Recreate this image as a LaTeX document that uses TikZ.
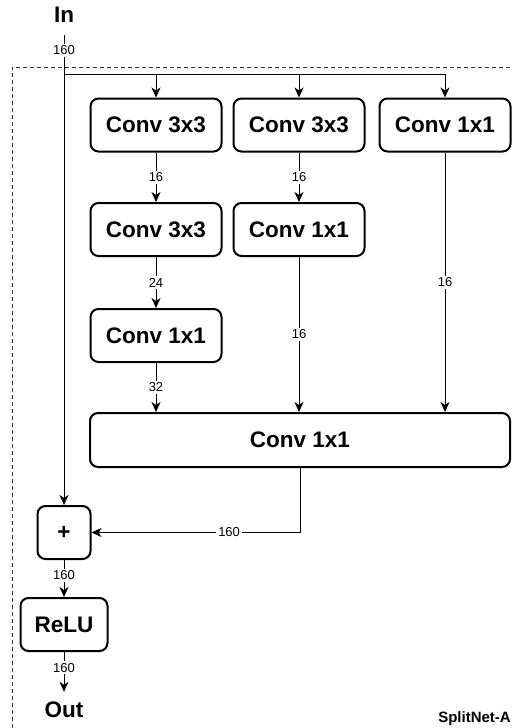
\documentclass[tikz,border=0pt]{standalone}
\usepackage{fontspec}
\setmainfont{Liberation Sans}
\usetikzlibrary{arrows.meta}
\newcommand{\boxfont}{\fontsize{22.5}{26}\selectfont\bfseries}
\newcommand{\labfont}{\fontsize{13}{15}\selectfont}
\begin{document}
\begin{tikzpicture}[x=1pt,y=-1pt,
  box/.style={draw, line width=2pt, rounded corners=8pt, minimum width=131pt, minimum height=53pt, inner sep=0pt, font=\boxfont},
  io/.style={inner xsep=0pt, text depth=0pt, text height=16.5pt, font=\boxfont},
  lab/.style={fill=white, inner sep=2pt, font=\labfont},
  conn/.style={line width=1pt, -{Stealth[length=10pt,width=9pt,inset=3pt]}},
  plain/.style={line width=1pt},
  frame/.style={line width=1pt, dash pattern=on 4pt off 3pt, draw=black!80}]
\useasboundingbox (0,0) rectangle (512,728);
% dashed frame
\draw[frame] (12,728) |- (512,67);
% nodes
\node[io, anchor=base, inner ysep=13pt] (in) at (64,22) {In};
\node[io, anchor=base, inner ysep=8.5pt] (out) at (64,717) {Out};
\node[box] (b11) at (156,125) {Conv 3x3};
\node[box] (b12) at (299,125) {Conv 3x3};
\node[box] (b13) at (445,125) {Conv 1x1};
\node[box] (b21) at (156,229.5) {Conv 3x3};
\node[box] (b22) at (299,229.5) {Conv 1x1};
\node[box] (b31) at (156,335.5) {Conv 1x1};
\node[box, minimum width=420pt, minimum height=54pt] (big) at (300,440) {Conv 1x1};
\node[box, minimum width=53pt] (plus) at (64,532.5) {+};
\node[box, minimum width=87pt] (relu) at (64,624.5) {ReLU};
\node[anchor=base east, font=\fontsize{15}{18}\selectfont\bfseries, inner sep=0pt] (title) at (511,722) {SplitNet-A};
% connectors
\coordinate (split) at (64,74);
\draw[conn] (in) -- node[lab, pos=0.032] {160} (plus);
\draw[conn] (split) -| (b11);
\draw[conn] (split) -| (b12);
\draw[conn] (split) -| (b13);
\draw[conn] (b11) -- node[lab] {16} (b21);
\draw[conn] (b21) -- node[lab] {24} (b31);
\draw[conn] (b31) -- node[lab] {32} (b31 |- big.north);
\draw[conn] (b12) -- node[lab] {16} (b22);
\draw[conn] (b22) -- node[lab] {16} (b22 |- big.north);
\draw[conn] (b13) -- node[lab] {16} (b13 |- big.north);
\draw[conn] (big.south) |- node[lab, pos=0.67] {160} (plus);
\draw[conn] (plus) -- node[lab, pos=0.41] {160} (relu);
\draw[conn] (relu) -- node[lab, pos=0.39] {160} (out);
\end{tikzpicture}
\end{document}
